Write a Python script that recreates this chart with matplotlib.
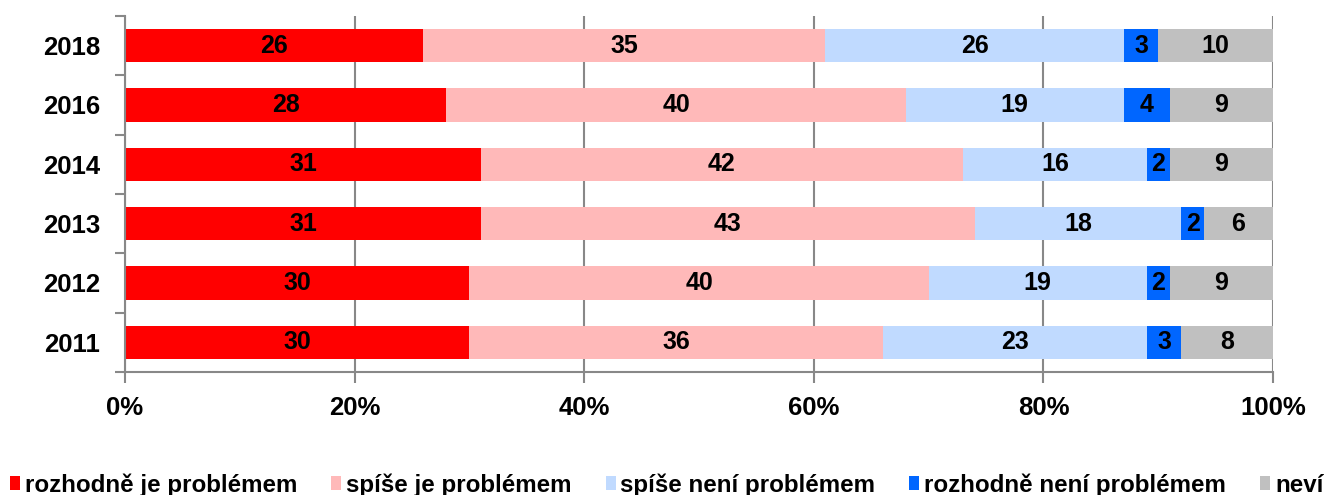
import numpy as np
import matplotlib.pyplot as plt
from matplotlib.ticker import FixedLocator, PercentFormatter

plt.rcParams['font.family'] = ['Liberation Sans', 'DejaVu Sans']
plt.rcParams['font.weight'] = 'bold'

# Data
years = ["2011", "2012", "2013", "2014", "2016", "2018"]
categories = ["rozhodně je problémem", "spíše je problémem", "spíše není problémem",
              "rozhodně není problémem", "neví"]
rozhodne_je = [30, 30, 31, 31, 28, 26]
spise_je = [36, 40, 43, 42, 40, 35]
spise_neni = [23, 19, 18, 16, 19, 26]
rozhodne_neni = [3, 2, 2, 2, 4, 3]
nevi = [8, 9, 6, 9, 9, 10]
series = [rozhodne_je, spise_je, spise_neni, rozhodne_neni, nevi]
colors = ["#FF0000", "#FFB9B9", "#C0DAFF", "#0066FF", "#C0C0C0"]

fig = plt.figure(figsize=(13.27, 4.95), dpi=100)
ax = fig.add_axes([125/1327, 1 - 372/495, (1273 - 125)/1327, (372 - 16)/495])

y = np.arange(len(years))
left = np.zeros(len(years))
for vals, col, lab in zip(series, colors, categories):
    vals = np.array(vals, dtype=float)
    ax.barh(y, vals, left=left, height=0.56, color=col, label=lab, zorder=2)
    for yi, l, v in zip(y, left, vals):
        ax.text(l + v / 2, yi, f"{int(v)}", ha='center', va='center',
                fontsize=18, fontweight='bold', color='black', zorder=3)
    left += vals

ax.set_xlim(0, 100)
ax.set_ylim(-0.5, len(years) - 0.5)
ax.xaxis.set_major_locator(FixedLocator([0, 20, 40, 60, 80, 100]))
ax.xaxis.set_major_formatter(PercentFormatter(decimals=0))
ax.set_yticks(y)
ax.set_yticklabels(years)
ax.set_yticks(np.arange(-0.5, len(years)), minor=True)
ax.tick_params(axis='y', which='major', length=0, pad=18, labelsize=18.5)
ax.tick_params(axis='y', which='minor', length=7, width=1.5, color='#888888', direction='out')
ax.tick_params(axis='x', length=8, width=1.5, color='#888888', pad=9, labelsize=18.5)

ax.grid(axis='x', color='#888888', linewidth=1.5, zorder=1)
ax.set_axisbelow(True)
for s in ['top', 'right']:
    ax.spines[s].set_visible(False)
for s in ['left', 'bottom']:
    ax.spines[s].set_color('#888888')
    ax.spines[s].set_linewidth(1.5)

# legend runs off the bottom/right edge like in the original
fig.legend(loc='center left', bbox_to_anchor=(10/1327, 10/495), ncol=5, frameon=False,
           fontsize=17.4, handlelength=0.42, handleheight=0.55, handletextpad=0.2,
           columnspacing=1.4, borderaxespad=0, borderpad=0)

fig.savefig("out.png", dpi=100)
